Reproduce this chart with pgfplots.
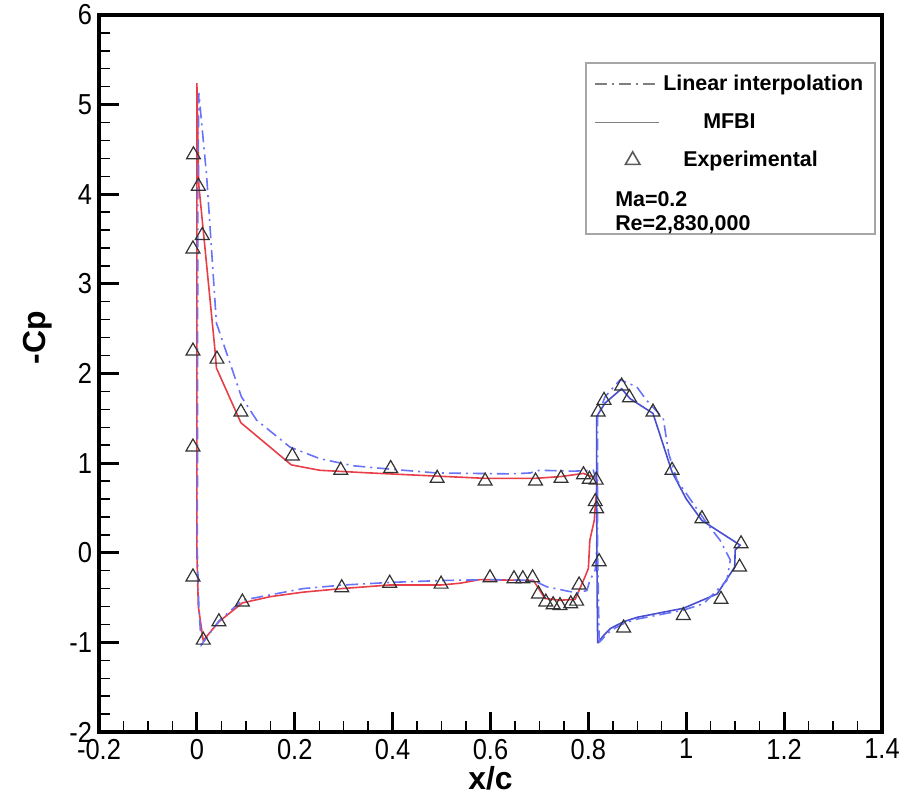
\documentclass[border=0pt]{standalone}
\usepackage{fontspec}
\setmainfont{Liberation Sans}
\newfontfamily\tickfont[FakeStretch=0.88]{Liberation Sans}
\usepackage{pgfplots}
\pgfplotsset{compat=1.18}
\definecolor{mfbired}{RGB}{232,62,72}
\definecolor{mfbiblue}{RGB}{72,78,205}
\definecolor{linblue}{RGB}{105,115,250}
\begin{document}
\begin{tikzpicture}
\begin{axis}[
  scale only axis, width=391.5bp, height=358.5bp,
  xmin=-0.2, xmax=1.4, ymin=-2, ymax=6,
  xtick={-0.2,0,0.2,0.4,0.6,0.8,1,1.2,1.4},
  ytick={-2,-1,0,1,2,3,4,5,6},
  minor x tick num=3, minor y tick num=4,
  tick pos=left, tick align=inside,
  major tick length=10bp, minor tick length=5.5bp,
  every major tick/.style={black, line width=1.4bp},
  every minor tick/.style={black, line width=0.7bp},
  axis line style={line width=1.9bp},
  /pgf/number format/assume math mode=true,
  /pgf/number format/fixed,
  tick label style={font=\tickfont\fontsize{14.5}{16}\selectfont},
  xlabel={\bfseries x/c}, ylabel={\bfseries -Cp},
  label style={font=\fontsize{16}{18}\selectfont},
  xlabel style={at={(axis description cs:0.5,-0.064)}, anchor=center},
  ylabel style={at={(axis description cs:-0.078,0.55)}, anchor=center, rotate=0},
  legend style={at={(rel axis cs:0.9923,0.9344)}, anchor=north east,
    draw=gray!70, line width=0.8bp, row sep=6bp, inner sep=4bp,
    font=\fontsize{10.75}{12}\selectfont\bfseries},
  legend cell align=left,
]
% legend samples
\addlegendimage{legend image code/.code={\draw[gray, line width=0.6bp, dash pattern=on 6bp off 2.5bp on 1bp off 2.5bp] (0bp,0bp) -- (30bp,0bp);}}
\addlegendentry{Linear interpolation}
\addlegendimage{legend image code/.code={\draw[gray, line width=0.6bp] (0bp,0bp) -- (32bp,0bp);}}
\addlegendentry{\hspace*{20bp}MFBI}
\addlegendimage{only marks, mark=triangle, mark size=4.2bp, black!65, mark options={xshift=10.5bp}}
\addlegendentry{\hspace*{10bp}Experimental}
\addlegendimage{empty legend}
\addlegendentry{\hspace*{-24bp}\begin{tabular}{@{}l@{}}Ma=0.2\\Re=2,830,000\end{tabular}}

% main element, MFBI
\addplot[mfbired, line width=0.8bp, forget plot] coordinates {
 (0.818,0.77)(0.816,0.83)(0.790,0.885)(0.744,0.85)(0.692,0.83)(0.589,0.83)
 (0.490,0.855)(0.374,0.885)(0.333,0.896)(0.251,0.92)(0.193,0.98)(0.090,1.45)
 (0.040,2.06)(0.037,2.26)(0.004,4.10)(0.000,5.24)(0.000,3.00)(0.000,0.00)
 (0.003,-0.60)(0.013,-0.98)(0.045,-0.77)(0.093,-0.56)(0.150,-0.49)(0.217,-0.44)
 (0.296,-0.40)(0.394,-0.36)(0.499,-0.36)(0.538,-0.34)(0.578,-0.30)(0.688,-0.31)
 (0.711,-0.51)(0.742,-0.53)(0.773,-0.52)(0.793,-0.27)(0.800,-0.175)(0.803,0.14)
 (0.812,0.36)(0.814,0.51)(0.818,0.77)};
% main element, linear interpolation
\addplot[linblue, line width=0.8bp, dash pattern=on 6bp off 2.5bp on 1bp off 2.5bp, forget plot] coordinates {
 (0.817,0.80)(0.810,0.92)(0.770,0.91)(0.700,0.92)(0.681,0.89)(0.640,0.88)
 (0.490,0.89)(0.400,0.93)(0.320,0.97)(0.251,1.05)(0.190,1.18)(0.122,1.48)
 (0.091,1.74)(0.047,2.45)(0.040,2.56)(0.020,4.20)(0.004,5.13)(0.002,4.00)
 (0.001,0.00)(0.004,-0.60)(0.009,-1.03)(0.045,-0.76)(0.093,-0.53)(0.217,-0.40)
 (0.300,-0.36)(0.400,-0.33)(0.500,-0.31)(0.600,-0.30)(0.688,-0.31)(0.715,-0.38)
 (0.759,-0.43)(0.780,-0.45)(0.797,-0.42)(0.803,-0.31)(0.814,-0.19)(0.817,0.03)
 (0.818,0.50)(0.817,0.80)};
% flap, MFBI
\addplot[mfbiblue, line width=0.8bp, forget plot] coordinates {
 (0.819,-1.01)(0.818,-0.50)(0.817,0.50)(0.817,1.52)(0.834,1.67)(0.868,1.83)
 (0.885,1.72)(0.932,1.555)(0.971,0.90)(1.000,0.60)(1.032,0.36)(1.110,0.085)
 (1.100,0.03)(1.099,-0.16)(1.063,-0.46)(0.994,-0.62)(0.900,-0.72)(0.872,-0.77)
 (0.845,-0.845)(0.830,-0.93)(0.819,-1.01)};
% flap, linear interpolation
\addplot[linblue, line width=0.8bp, dash pattern=on 6bp off 2.5bp on 1bp off 2.5bp, forget plot] coordinates {
 (0.822,-1.00)(0.819,0.00)(0.819,1.52)(0.834,1.74)(0.865,1.93)(0.899,1.85)
 (0.919,1.70)(0.953,1.50)(0.964,1.11)(0.981,0.81)(1.042,0.33)(1.069,0.14)
 (1.090,-0.08)(1.083,-0.31)(1.035,-0.57)(0.994,-0.64)(0.900,-0.74)(0.872,-0.79)
 (0.845,-0.87)(0.822,-1.00)};
% experiment
\addplot[only marks, mark=triangle, mark size=4bp, black!80, mark options={line width=0.6bp}, forget plot] coordinates {
 (-0.007,4.44)(0.003,4.09)(0.011,3.54)(-0.008,3.39)(-0.008,2.25)(0.041,2.16)
 (0.090,1.57)(-0.008,1.18)(0.195,1.08)(0.294,0.92)(0.396,0.94)(0.491,0.83)
 (0.589,0.80)(0.692,0.80)(0.744,0.83)(0.790,0.87)(0.802,0.82)(0.816,0.81)
 (0.814,0.57)(0.817,0.49)
 (-0.008,-0.27)(0.013,-0.975)(0.045,-0.77)(0.093,-0.55)(0.296,-0.39)(0.394,-0.34)
 (0.499,-0.35)(0.599,-0.28)(0.648,-0.29)(0.666,-0.29)(0.686,-0.28)(0.698,-0.46)
 (0.713,-0.55)(0.728,-0.58)(0.742,-0.59)(0.764,-0.57)(0.776,-0.54)(0.781,-0.36)
 (0.822,-0.10)
 (0.868,1.86)(0.832,1.70)(0.820,1.57)(0.884,1.73)(0.932,1.57)(0.971,0.92)
 (1.032,0.38)(1.112,0.10)(1.109,-0.16)(1.071,-0.52)(0.994,-0.70)(0.872,-0.84)};
\end{axis}
\pgfresetboundingbox
\path[use as bounding box] ([xshift=-49.5bp,yshift=-34.5bp]current axis.south west)
  rectangle ([xshift=12.5bp,yshift=7.5bp]current axis.north east);
\end{tikzpicture}
\end{document}
